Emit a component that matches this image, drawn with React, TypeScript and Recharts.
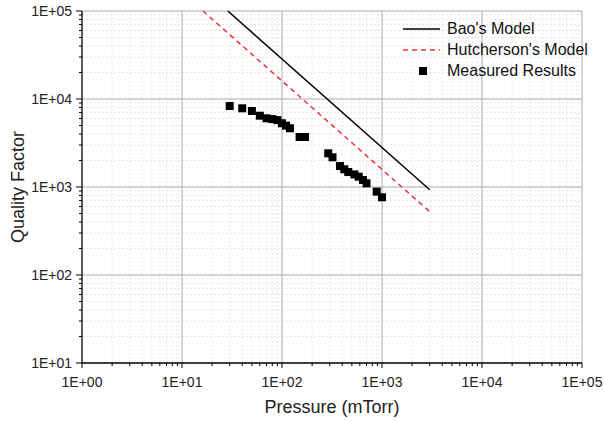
import React from "react";
import {
  ComposedChart,
  Line,
  Scatter,
  XAxis,
  YAxis,
  ReferenceLine,
  Legend,
  Label,
} from "recharts";

document.body.style.margin = "0";

const FONT = "'Liberation Sans', Arial, sans-serif";

// Measured quality factor vs pressure (mTorr)
const MEAS_P = [30, 40, 50, 60, 70, 80, 90, 100, 110, 120, 150, 170, 290, 320, 380, 420, 460, 530, 585, 645, 700, 885, 1000];
const MEAS_Q = [8320, 7840, 7310, 6460, 6030, 5910, 5750, 5300, 4980, 4650, 3700, 3700, 2415, 2175, 1730, 1590, 1480, 1390, 1310, 1200, 1100, 885, 764];

// model lines (straight on log-log)
const BAO_P = [28.7, 3000];
const BAO_Q = [100000, 930];
const HUTCH_P = [16.2, 3000];
const HUTCH_Q = [100000, 525];

const X_MAJOR = [1, 10, 100, 1000, 10000, 100000];
const X_LABELS = ["1E+00", "1E+01", "1E+02", "1E+03", "1E+04", "1E+05"];
const Y_MAJOR = [10, 100, 1000, 10000, 100000];
const Y_LABELS = ["1E+01", "1E+02", "1E+03", "1E+04", "1E+05"];
const MINOR = [2, 3, 4, 5, 6, 7, 8, 9];

const xMinor = X_MAJOR.slice(0, -1).flatMap((d) => MINOR.map((m) => m * d));
const yMinor = Y_MAJOR.slice(0, -1).flatMap((d) => MINOR.map((m) => m * d));
const xTicks = [...X_MAJOR, ...xMinor].sort((a, b) => a - b);
const yTicks = [...Y_MAJOR, ...yMinor].sort((a, b) => a - b);

const measured = MEAS_P.map((p, i) => ({ p, q: MEAS_Q[i] }));
const bao = BAO_P.map((p, i) => ({ p, q: BAO_Q[i] }));
const hutch = HUTCH_P.map((p, i) => ({ p, q: HUTCH_Q[i] }));

const LEGEND_ITEMS = [
  { name: "Bao's Model", kind: "solid" },
  { name: "Hutcherson's Model", kind: "dash" },
  { name: "Measured Results", kind: "square" },
];

const XTick = (props: any) => {
  const { x, y, payload } = props;
  const idx = X_MAJOR.indexOf(payload.value);
  const major = idx >= 0;
  return (
    <g>
      <line x1={x} y1={y} x2={x} y2={y + (major ? 5 : 3)} stroke="#000" />
      {major && (
        <text x={x} y={y + 24} textAnchor="middle" fontSize={14} fontFamily={FONT} fill="#222">
          {X_LABELS[idx]}
        </text>
      )}
    </g>
  );
};

const YTick = (props: any) => {
  const { x, y, payload } = props;
  const idx = Y_MAJOR.indexOf(payload.value);
  const major = idx >= 0;
  return (
    <g>
      <line x1={x - (major ? 6 : 3)} y1={y} x2={x} y2={y} stroke="#000" />
      {major && (
        <text x={x - 10} y={y + 5} textAnchor="end" fontSize={14} fontFamily={FONT} fill="#222">
          {Y_LABELS[idx]}
        </text>
      )}
    </g>
  );
};

const renderLegend = () => (
  <div style={{ fontFamily: FONT, fontSize: 16, color: "#111" }}>
    {LEGEND_ITEMS.map((item) => (
      <div key={item.name} style={{ display: "flex", alignItems: "center", height: 21 }}>
        <svg width={38} height={10}>
          {item.kind === "solid" && <line x1={0} y1={5} x2={37} y2={5} stroke="#000" strokeWidth={1.5} />}
          {item.kind === "dash" && (
            <line x1={0} y1={5} x2={37} y2={5} stroke="#e8323c" strokeWidth={1.5} strokeDasharray="5 4" />
          )}
          {item.kind === "square" && <rect x={16} y={1} width={8} height={8} fill="#000" />}
        </svg>
        <span style={{ marginLeft: 6 }}>{item.name}</span>
      </div>
    ))}
  </div>
);

export default function App() {
  return (
    <ComposedChart width={604} height={422} margin={{ top: 11, right: 22, bottom: 9, left: 12 }}>
      {xMinor.map((v) => (
        <ReferenceLine key={"xm" + v} x={v} stroke="#e6e6e6" strokeDasharray="2 2" />
      ))}
      {yMinor.map((v) => (
        <ReferenceLine key={"ym" + v} y={v} stroke="#e6e6e6" strokeDasharray="2 2" />
      ))}
      {X_MAJOR.slice(1).map((v) => (
        <ReferenceLine key={"xM" + v} x={v} stroke="#aaaaaa" />
      ))}
      {Y_MAJOR.slice(1).map((v) => (
        <ReferenceLine key={"yM" + v} y={v} stroke="#aaaaaa" />
      ))}
      <XAxis
        dataKey="p"
        type="number"
        scale="log"
        domain={[1, 100000]}
        allowDataOverflow
        ticks={xTicks}
        interval={0}
        tick={<XTick />}
        tickLine={false}
        tickSize={0}
        tickMargin={0}
        height={50}
        axisLine={{ stroke: "#000", strokeWidth: 1.3 }}
      >
        <Label
          content={(props: any) => {
            const vb = props.viewBox;
            return (
              <text x={vb.x + vb.width / 2} y={vb.y + 50} textAnchor="middle" fontSize={18} fontFamily={FONT} fill="#222">
                Pressure (mTorr)
              </text>
            );
          }}
        />
      </XAxis>
      <YAxis
        dataKey="q"
        type="number"
        scale="log"
        domain={[10, 100000]}
        allowDataOverflow
        ticks={yTicks}
        interval={0}
        tick={<YTick />}
        tickLine={false}
        tickSize={0}
        tickMargin={0}
        width={70}
        axisLine={{ stroke: "#000", strokeWidth: 1.3 }}
      >
        <Label
          content={(props: any) => {
            const vb = props.viewBox;
            const cx = vb.x + 6;
            const cy = vb.y + vb.height / 2;
            return (
              <text
                x={cx}
                y={cy}
                transform={`rotate(-90 ${cx} ${cy})`}
                textAnchor="middle"
                dominantBaseline="central"
                fontSize={18}
                fontFamily={FONT}
                fill="#222"
              >
                Quality Factor
              </text>
            );
          }}
        />
      </YAxis>
      <Legend
        layout="vertical"
        align="center"
        verticalAlign="middle"
        content={renderLegend}
        wrapperStyle={{ top: 18, left: 403, width: 200 }}
      />
      <Line
        data={bao}
        dataKey="q"
        name="Bao's Model"
        stroke="#000"
        strokeWidth={1.5}
        dot={false}
        isAnimationActive={false}
      />
      <Line
        data={hutch}
        dataKey="q"
        name="Hutcherson's Model"
        stroke="#e8323c"
        strokeWidth={1.5}
        strokeDasharray="5 4"
        dot={false}
        isAnimationActive={false}
      />
      <Scatter
        data={measured}
        dataKey="q"
        name="Measured Results"
        fill="#000"
        isAnimationActive={false}
        shape={(p: any) => <rect x={p.cx - 4} y={p.cy - 4} width={8} height={8} fill="#000" />}
      />
    </ComposedChart>
  );
}
